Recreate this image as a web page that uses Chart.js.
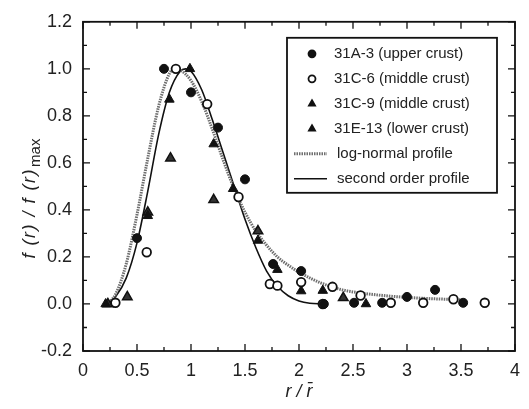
<!DOCTYPE html>
<html>
<head>
<meta charset="utf-8">
<script src="https://cdn.jsdelivr.net/npm/chart.js@4/dist/chart.umd.min.js"></script>
<style>
  html, body { margin: 0; padding: 0; background: #fff; }
  #wrap { width: 529px; height: 409px; }
</style>
</head>
<body>
<div id="wrap"><canvas id="canvas" width="529" height="409"></canvas></div>
<script>
// measured points, x = r / r-bar, y = f(r) / f(r)max
var upperX = [0.75, 1.00, 1.25, 0.50, 1.50, 1.76, 2.02, 2.23, 2.51, 2.77, 3.00, 3.26, 3.52];
var upperY = [1.00, 0.90, 0.75, 0.28, 0.53, 0.17, 0.14, 0.00, 0.005, 0.005, 0.03, 0.06, 0.005];

var middle6X = [0.86, 1.15, 0.30, 0.59, 1.44, 1.73, 1.80, 2.02, 2.22, 2.31, 2.57, 2.85, 3.15, 3.43, 3.72];
var middle6Y = [1.00, 0.85, 0.005, 0.22, 0.455, 0.085, 0.078, 0.093, 0.0, 0.073, 0.036, 0.005, 0.005, 0.02, 0.005];

var middle9X = [0.99, 0.80, 1.21, 0.21, 0.60, 1.39, 1.62, 1.80, 2.02, 2.22, 2.62];
var middle9Y = [1.00, 0.87, 0.68, 0.00, 0.375, 0.49, 0.27, 0.146, 0.055, 0.057, 0.00];

var lowerX = [0.81, 1.21, 0.41, 0.60, 1.62, 2.41, 0.23];
var lowerY = [0.62, 0.443, 0.03, 0.39, 0.31, 0.026, 0.00];

// fitted profiles
var logNormX = [0.22, 0.3, 0.4, 0.5, 0.6, 0.7, 0.8, 0.85, 0.9, 1.0, 1.1, 1.2, 1.3, 1.4, 1.5, 1.6, 1.7, 1.8, 1.9, 2.0, 2.2, 2.4, 2.6, 2.8, 3.0, 3.2, 3.5];
var logNormY = [0.0, 0.04, 0.17, 0.38, 0.62, 0.84, 0.98, 1.0, 0.995, 0.95, 0.86, 0.74, 0.61, 0.49, 0.39, 0.31, 0.25, 0.20, 0.165, 0.135, 0.09, 0.06, 0.045, 0.035, 0.028, 0.023, 0.018];

var secondX = [0.22, 0.3, 0.4, 0.5, 0.6, 0.7, 0.8, 0.9, 0.95, 1.0, 1.1, 1.2, 1.3, 1.4, 1.5, 1.6, 1.7, 1.8, 1.9, 2.0, 2.1, 2.22];
var secondY = [0.0, 0.03, 0.11, 0.26, 0.48, 0.72, 0.90, 0.99, 1.0, 0.99, 0.91, 0.78, 0.64, 0.50, 0.36, 0.24, 0.14, 0.075, 0.035, 0.013, 0.003, 0.0];

var xTicks = [0, 0.5, 1, 1.5, 2, 2.5, 3, 3.5, 4];
var yTicks = [-0.2, 0, 0.2, 0.4, 0.6, 0.8, 1.0, 1.2];

function pts(xs, ys) {
    var out = [];
    for (var i = 0; i < xs.length; i++) out.push({x: xs[i], y: ys[i]});
    return out;
}

var FONT = "'Liberation Sans', Arial, sans-serif";

// inward tick marks on all four sides plus the frame
var frameTicks = {
    id: 'frameTicks',
    afterDatasetsDraw: function(chart) {
        var ctx = chart.ctx, a = chart.chartArea;
        var xs = chart.scales.x, ys = chart.scales.y;
        ctx.save();
        ctx.strokeStyle = '#111';
        ctx.lineWidth = 1.3;
        for (var k = 0; k <= 16; k++) {
            var px = xs.getPixelForValue(k * 0.25);
            var len = (k % 2 === 0) ? 7 : 4;
            ctx.beginPath();
            ctx.moveTo(px, a.bottom); ctx.lineTo(px, a.bottom - len);
            ctx.moveTo(px, a.top); ctx.lineTo(px, a.top + len);
            ctx.stroke();
        }
        for (var j = 0; j <= 14; j++) {
            var py = ys.getPixelForValue(-0.2 + j * 0.1);
            var l2 = (j % 2 === 0) ? 7 : 4;
            ctx.beginPath();
            ctx.moveTo(a.left, py); ctx.lineTo(a.left + l2, py);
            ctx.moveTo(a.right, py); ctx.lineTo(a.right - l2, py);
            ctx.stroke();
        }
        ctx.lineWidth = 1.8;
        ctx.strokeRect(a.left, a.top, a.right - a.left, a.bottom - a.top);
        ctx.restore();
    }
};

// y axis title with the "max" subscript
var yTitle = {
    id: 'yTitle',
    afterDraw: function(chart) {
        var ctx = chart.ctx;
        var main = 'f (r) / f (r)', sub = 'max';
        ctx.save();
        ctx.translate(30, 199);
        ctx.rotate(-Math.PI / 2);
        ctx.fillStyle = '#222';
        ctx.textBaseline = 'middle';
        ctx.letterSpacing = '1.5px';
        ctx.font = 'italic 18px ' + FONT;
        var w1 = ctx.measureText(main).width;
        ctx.letterSpacing = '0px';
        ctx.font = '15px ' + FONT;
        var w2 = ctx.measureText(sub).width;
        var x0 = -(w1 + w2) / 2;
        ctx.letterSpacing = '1.5px';
        ctx.font = 'italic 18px ' + FONT;
        ctx.textAlign = 'left';
        ctx.fillText(main, x0, 0);
        ctx.letterSpacing = '0px';
        ctx.font = '15px ' + FONT;
        ctx.fillText(sub, x0 + w1 + 1, 6);
        ctx.restore();
    }
};

// boxed legend inside the plot, top right
var boxLegend = {
    id: 'boxLegend',
    afterDraw: function(chart) {
        var ctx = chart.ctx, a = chart.chartArea;
        var bx = a.right - 228, by = a.top + 16, bw = 210, bh = 155;
        ctx.save();
        ctx.fillStyle = '#fff';
        ctx.fillRect(bx, by, bw, bh);
        ctx.strokeStyle = '#111';
        ctx.lineWidth = 1.8;
        ctx.strokeRect(bx, by, bw, bh);
        ctx.font = '15px ' + FONT;
        ctx.textBaseline = 'middle';
        chart.data.datasets.forEach(function(ds, i) {
            var y = by + 16 + i * 25;
            if (ds.showLine) {
                ctx.strokeStyle = ds.borderColor;
                ctx.lineWidth = ds.borderWidth;
                ctx.setLineDash(ds.borderDash || []);
                ctx.beginPath();
                ctx.moveTo(bx + 7, y); ctx.lineTo(bx + 40, y);
                ctx.stroke();
                ctx.setLineDash([]);
                ctx.fillStyle = '#222';
                ctx.fillText(ds.label, bx + 50, y);
            } else {
                ctx.fillStyle = ds.pointStyle === 'triangle' ? '#111' : ds.backgroundColor;
                ctx.strokeStyle = '#111';
                ctx.lineWidth = 1.8;
                Chart.helpers.drawPoint(ctx, {pointStyle: ds.pointStyle, radius: 3.5, rotation: 0, borderWidth: 1.8}, bx + 25, y);
                ctx.fillStyle = '#222';
                ctx.fillText(ds.label, bx + 47, y);
            }
        });
        ctx.restore();
    }
};

var config = {
    type: 'scatter',
    data: {
        datasets: [{
                label: '31A-3 (upper crust)',
                data: pts(upperX, upperY),
                pointStyle: 'circle',
                pointRadius: 4.5,
                backgroundColor: '#111',
                borderColor: '#111',
                borderWidth: 1
            },
            {
                label: '31C-6 (middle crust)',
                data: pts(middle6X, middle6Y),
                pointStyle: 'circle',
                pointRadius: 4.3,
                backgroundColor: '#fff',
                borderColor: '#111',
                borderWidth: 1.8
            },
            {
                label: '31C-9 (middle crust)',
                data: pts(middle9X, middle9Y),
                pointStyle: 'triangle',
                pointRadius: 5.5,
                backgroundColor: '#111',
                borderColor: '#111',
                borderWidth: 1
            },
            {
                label: '31E-13 (lower crust)',
                data: pts(lowerX, lowerY),
                pointStyle: 'triangle',
                pointRadius: 5.5,
                backgroundColor: '#333',
                borderColor: '#111',
                borderWidth: 1.5
            },
            {
                label: 'log-normal profile',
                data: pts(logNormX, logNormY),
                showLine: true,
                pointRadius: 0,
                borderColor: '#6e6e6e',
                borderWidth: 3,
                borderDash: [1.5, 1],
                cubicInterpolationMode: 'monotone',
                fill: false
            },
            {
                label: 'second order profile',
                data: pts(secondX, secondY),
                showLine: true,
                pointRadius: 0,
                borderColor: '#111',
                borderWidth: 1.6,
                cubicInterpolationMode: 'monotone',
                fill: false
            }
        ]
    },
    options: {
        responsive: false,
        animation: false,
        layout: { padding: { top: 21, right: 6, left: 0, bottom: 0 } },
        plugins: {
            legend: { display: false },
            tooltip: { enabled: false }
        },
        scales: {
            x: {
                type: 'linear',
                min: 0,
                max: 4,
                afterFit: function(s) { s.height = 58; },
                afterBuildTicks: function(s) { s.ticks = xTicks.map(function(v) { return {value: v}; }); },
                grid: { display: false, drawTicks: false },
                border: { display: false },
                ticks: {
                    padding: 9,
                    color: '#222',
                    font: { family: FONT, size: 18 },
                    callback: function(v) { return String(+v.toFixed(2)); }
                },
                title: {
                    display: true,
                    text: 'r / r\u0304',
                    color: '#222',
                    font: { family: FONT, size: 18, style: 'italic' },
                    padding: { top: 0, bottom: 6 }
                }
            },
            y: {
                type: 'linear',
                min: -0.2,
                max: 1.2,
                afterFit: function(s) { s.width = 83; },
                afterBuildTicks: function(s) { s.ticks = yTicks.map(function(v) { return {value: v}; }); },
                grid: { display: false, drawTicks: false },
                border: { display: false },
                ticks: {
                    padding: 11,
                    color: '#222',
                    font: { family: FONT, size: 18 },
                    callback: function(v) { return v.toFixed(1); }
                },
                title: { display: false }
            }
        }
    },
    plugins: [frameTicks, yTitle, boxLegend]
};

window.addEventListener('load', function() {
    var ctx = document.getElementById('canvas').getContext('2d');
    window.ProfileChart = new Chart(ctx, config);
});
</script>
</body>
</html>
